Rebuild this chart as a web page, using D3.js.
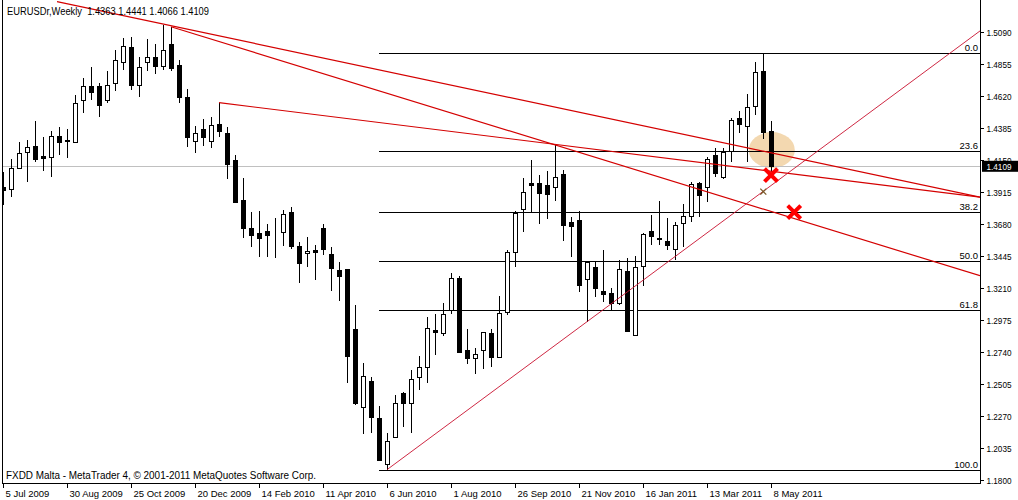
<!DOCTYPE html>
<html><head><meta charset="utf-8">
<script src="https://cdnjs.cloudflare.com/ajax/libs/d3/7.8.5/d3.min.js"></script>
<style>
html,body{margin:0;padding:0;background:#fff;}
text{font-family:"Liberation Sans",Arial,sans-serif;}
</style></head>
<body><svg id="c" width="1018" height="500"></svg>
<script>
const symbolTitle = "EURUSDr,Weekly  1.4363 1.4441 1.4066 1.4109";
const footer = "FXDD Malta - MetaTrader 4, \u00a9 2001-2011 MetaQuotes Software Corp.";
const opens = [1.3953,1.3936,1.4090,1.4212,1.4254,1.4183,1.4176,1.4328,1.4298,1.4286,
1.4592,1.4695,1.4695,1.4592,1.4715,1.4874,1.4984,1.4703,1.4870,1.4906,
1.4845,1.5004,1.4850,1.4612,1.4293,1.4379,1.4289,1.4414,1.4348,1.4151,
1.3857,1.3654,1.3617,1.3630,1.3615,1.3620,1.3767,1.3522,1.3466,1.3490,
1.3654,1.3461,1.3343,1.3350,1.2909,1.2334,1.2527,1.2253,1.1915,1.2118,
1.2437,1.2363,1.2554,1.2628,1.2902,1.2878,1.3049,1.3286,1.2755,1.2694,
1.2755,1.2878,1.2706,1.3038,1.3473,1.3789,1.3985,1.3985,1.3968,1.3951,
1.4049,1.3698,1.3710,1.3275,1.3367,1.3189,1.3176,1.3103,1.3336,1.2865,
1.3372,1.3630,1.3580,1.3556,1.3495,1.3686,1.3742,1.3980,1.3951,1.4188,
1.4029,1.4220,1.4458,1.4401,1.4551,1.4806,1.4363];
const highs = [1.4065,1.4157,1.4281,1.4298,1.4440,1.4323,1.4365,1.4396,1.4377,1.4629,
1.4752,1.4837,1.4715,1.4808,1.4960,1.5046,1.5058,1.4906,1.5041,1.5004,
1.5144,1.5131,1.4886,1.4671,1.4401,1.4451,1.4470,1.4573,1.4396,1.4188,
1.4017,1.3771,1.3777,1.3681,1.3727,1.3784,1.3804,1.3551,1.3588,1.3527,
1.3681,1.3514,1.3405,1.3350,1.3086,1.2657,1.2559,1.2345,1.2147,1.2424,
1.2448,1.2608,1.2711,1.2999,1.3020,1.3103,1.3323,1.3299,1.2909,1.2767,
1.2885,1.2907,1.3152,1.3490,1.3779,1.4017,1.4151,1.4041,1.4071,1.4262,
1.4078,1.3735,1.3779,1.3404,1.3404,1.3490,1.3208,1.3416,1.3433,1.3446,
1.3617,1.3747,1.3850,1.3727,1.3698,1.3826,1.3992,1.3992,1.4171,1.4237,
1.4237,1.4458,1.4512,1.4637,1.4870,1.4940,1.4441];
const lows = [1.3821,1.3882,1.4083,1.3992,1.4139,1.4073,1.4029,1.4188,1.4164,1.4284,
1.4499,1.4592,1.4470,1.4568,1.4659,1.4813,1.4666,1.4612,1.4808,1.4784,
1.4813,1.4808,1.4573,1.4249,1.4205,1.4254,1.4242,1.4323,1.4014,1.3843,
1.3576,1.3514,1.3436,1.3441,1.3429,1.3519,1.3495,1.3250,1.3367,1.3269,
1.3453,1.3191,1.3115,1.2510,1.2351,1.2135,1.2143,1.1941,1.1876,1.2105,
1.2191,1.2143,1.2461,1.2510,1.2718,1.2860,1.3017,1.2738,1.2652,1.2576,
1.2613,1.2632,1.2694,1.3012,1.3367,1.3624,1.3760,1.3681,1.3718,1.3852,
1.3558,1.3436,1.3183,1.2963,1.3147,1.3110,1.3044,1.3086,1.2889,1.2858,
1.3227,1.3527,1.3527,1.3490,1.3416,1.3514,1.3698,1.3735,1.3845,1.4029,
1.4010,1.4139,1.4352,1.4139,1.4482,1.4304,1.4066];
const closes = [1.3931,1.4090,1.4201,1.4245,1.4157,1.4168,1.4328,1.4286,1.4289,1.4568,
1.4695,1.4653,1.4556,1.4703,1.4886,1.4989,1.4703,1.4833,1.4906,1.4845,
1.4960,1.4830,1.4617,1.4323,1.4348,1.4318,1.4406,1.4367,1.4122,1.3845,
1.3654,1.3600,1.3580,1.3600,1.3612,1.3752,1.3522,1.3397,1.3483,1.3477,
1.3495,1.3360,1.3301,1.2711,1.2363,1.2564,1.2260,1.1946,1.2086,1.2363,
1.2368,1.2542,1.2628,1.2914,1.2889,1.3017,1.3282,1.2738,1.2694,1.2723,
1.2885,1.2701,1.3025,1.3477,1.3764,1.3914,1.3968,1.3911,1.3902,1.4024,
1.3674,1.3666,1.3233,1.3404,1.3213,1.3167,1.3103,1.3348,1.2897,1.3367,
1.3605,1.3595,1.3573,1.3527,1.3674,1.3740,1.3975,1.3894,1.4159,1.4058,
1.4208,1.4445,1.4416,1.4539,1.4796,1.4355,1.4109];
const priceTicks = [1.5090,1.4855,1.4620,1.4385,1.4150,1.3915,1.3680,1.3445,1.3210,1.2975,1.2740,1.2505,1.2270,1.2035,1.1800];
const dateTickBars = [0,8,16,24,32,40,48,56,64,72,80,88,96];
const dateTickLabels = ["5 Jul 2009","30 Aug 2009","25 Oct 2009","20 Dec 2009","14 Feb 2010","11 Apr 2010","6 Jun 2010","1 Aug 2010","26 Sep 2010","21 Nov 2010","16 Jan 2011","13 Mar 2011","8 May 2011"];
const fibLevels = [0.0,23.6,38.2,50.0,61.8,100.0];
const fibHigh = 1.4940, fibLow = 1.1876, fibStartBar = 47;
const bid = 1.4109;
// trend lines as [bar, price] pairs
const trendLines = [
  {p:[[6.75,1.5316],[122.125,1.3879]], kind:"a"},
  {p:[[21,1.5131],[122.125,1.3301]], kind:"a"},
  {p:[[27,1.4573],[122.125,1.3879]], kind:"a"},
  {p:[[48,1.1876],[122.125,1.5100]], kind:"b"}
];
const bigCrosses = [[96,1.4041],[98.9,1.3769]];
const smallCross = [95.04,1.3919];
const ellipseCenter = [96.1,1.4225];

const svg = d3.select("#c");
const L = 2, R = 980, T = 0, B = 483;
const x = d3.scaleLinear().domain([0,96]).range([3,771]);
const y = d3.scaleLinear().domain([1.1800,1.5090]).range([480,32.3]);

function fit(sel, w){ sel.attr("textLength", w).attr("lengthAdjust","spacingAndGlyphs"); return sel; }

svg.append("rect").attr("width",1018).attr("height",500).attr("fill","#fff");
svg.append("defs").append("clipPath").attr("id","pc").append("rect")
  .attr("x",L).attr("y",T).attr("width",R-L).attr("height",B-T);
const plot = svg.append("g").attr("clip-path","url(#pc)");

// ellipse highlight
plot.append("ellipse").attr("cx",x(ellipseCenter[0])).attr("cy",y(ellipseCenter[1]))
  .attr("rx",23).attr("ry",18).attr("fill","#f3d8b0");

// bid line
plot.append("line").attr("x1",L).attr("x2",R).attr("y1",Math.round(y(bid))+0.5).attr("y2",Math.round(y(bid))+0.5)
  .attr("stroke","#c0c0c0").attr("stroke-width",1);

// fib lines
const fy = lv => fibHigh - (fibHigh-fibLow)*lv/100;
fibLevels.forEach(lv=>{
  const yy = Math.round(y(fy(lv)))+0.5;
  plot.append("line").attr("x1",x(fibStartBar)).attr("x2",R).attr("y1",yy).attr("y2",yy)
    .attr("stroke","#000").attr("stroke-width",1);
  plot.append("text").attr("x",R-2).attr("y",yy-3).attr("text-anchor","end")
    .attr("font-size",9.5).attr("fill","#000").text(lv.toFixed(1));
});

// candles
const data = opens.map((o,i)=>({i,o,h:highs[i],l:lows[i],c:closes[i]}));
const cg = plot.append("g").attr("shape-rendering","crispEdges");
data.forEach(d=>{
  const cx = Math.round(x(d.i))+0.5;
  cg.append("line").attr("x1",cx).attr("x2",cx).attr("y1",y(d.h)).attr("y2",y(d.l)).attr("stroke","#000");
  const top = Math.round(y(Math.max(d.o,d.c))), bot = Math.round(y(Math.min(d.o,d.c)));
  cg.append("rect").attr("x",cx-2).attr("y",top+0.5).attr("width",4).attr("height",Math.max(0,bot-top))
    .attr("fill", d.c>=d.o ? "#fff" : "#000").attr("stroke","#000").attr("stroke-width",1);
});

// trend lines
trendLines.forEach(t=>{
  const [a,b] = t.p;
  plot.append("line").attr("x1",x(a[0])).attr("y1",y(a[1])).attr("x2",x(b[0])).attr("y2",y(b[1]))
    .attr("stroke", t.kind==="a" ? "#d40000" : "#c8102e").attr("stroke-width", t.kind==="a"?1.2:0.9);
});

// markers
bigCrosses.forEach(m=>{
  const cx=x(m[0]), cy=y(m[1]), s=6.5;
  const g=plot.append("g").attr("stroke","#ff0000").attr("stroke-width",4).attr("stroke-linecap","butt");
  g.append("line").attr("x1",cx-s).attr("y1",cy-s).attr("x2",cx+s).attr("y2",cy+s);
  g.append("line").attr("x1",cx-s).attr("y1",cy+s).attr("x2",cx+s).attr("y2",cy-s);
});
{
  const cx=x(smallCross[0]), cy=y(smallCross[1]), s=3;
  const g=plot.append("g").attr("stroke","#7a5a2a").attr("stroke-width",1.3);
  g.append("line").attr("x1",cx-s).attr("y1",cy-s).attr("x2",cx+s).attr("y2",cy+s);
  g.append("line").attr("x1",cx-s).attr("y1",cy+s).attr("x2",cx+s).attr("y2",cy-s);
}

// frame
const fr = svg.append("g").attr("stroke","#000").attr("shape-rendering","crispEdges");
fr.append("line").attr("x1",L+0.5).attr("x2",L+0.5).attr("y1",T).attr("y2",B+1);
fr.append("line").attr("x1",R+0.5).attr("x2",R+0.5).attr("y1",T).attr("y2",B+1);
fr.append("line").attr("x1",L).attr("x2",R+1).attr("y1",B+0.5).attr("y2",B+0.5);

// right axis
const ax = svg.append("g").attr("transform",`translate(${R+0.5},0)`)
  .call(d3.axisRight(y).tickValues(priceTicks).tickSize(3).tickFormat(d3.format(".4f")));
ax.select(".domain").remove();
ax.selectAll("line").attr("stroke","#000").attr("shape-rendering","crispEdges");
ax.selectAll("text").attr("font-size",9.5).attr("fill","#000").attr("x",6);
fit(ax.selectAll("text"), 25);

// bid label
{
  const yy=y(bid);
  svg.append("rect").attr("x",R+2).attr("y",yy-5).attr("width",36).attr("height",11).attr("fill","#000");
  fit(svg.append("text").attr("x",R+6.5).attr("y",yy+0.5).attr("dy","0.35em").attr("font-size",9.5).attr("fill","#fff").text(bid.toFixed(4)),25);
}

// bottom axis
const bx = d3.scaleOrdinal().domain(dateTickBars).range(dateTickLabels);
const xa = svg.append("g").attr("transform",`translate(0,${B+0.5})`)
  .call(d3.axisBottom(x).tickValues(dateTickBars).tickSize(4).tickFormat(d=>bx(d)));
xa.select(".domain").remove();
xa.selectAll("line").attr("stroke","#000").attr("shape-rendering","crispEdges");
xa.selectAll("text").attr("font-size",9.5).attr("fill","#000").attr("text-anchor","start").attr("x",2).attr("y",7).attr("dy","0.71em");

// texts
fit(svg.append("text").attr("x",7).attr("y",15).attr("font-size",10).attr("fill","#000").attr("xml:space","preserve").text(symbolTitle),202);
fit(svg.append("text").attr("x",6).attr("y",479).attr("font-size",10).attr("fill","#000").text(footer),310);
</script></body></html>
